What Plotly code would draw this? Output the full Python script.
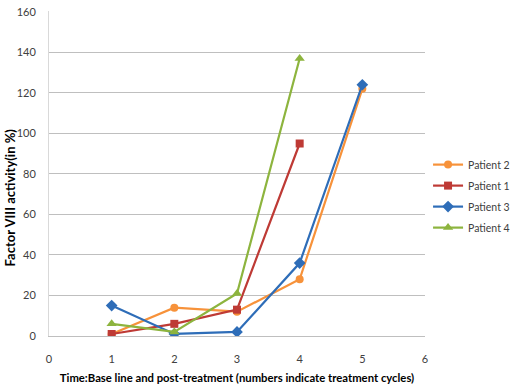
import plotly.graph_objects as go

cycles = [1, 2, 3, 4, 5]
patient2 = [1, 14, 12, 28, 122]
patient1 = [1, 6, 13, 95]
patient3 = [15, 1, 2, 36, 124]
patient4 = [6, 2, 21, 137]
y_ticks = [0, 20, 40, 60, 80, 100, 120, 140, 160]
x_ticks = [0, 1, 2, 3, 4, 5, 6]

series = [
    ("Patient 2", cycles[:len(patient2)], patient2, "#F7923A", "circle", 8),
    ("Patient 1", cycles[:len(patient1)], patient1, "#BE3A35", "square", 8),
    ("Patient 3", cycles[:len(patient3)], patient3, "#2E6DB8", "diamond", 9),
    ("Patient 4", cycles[:len(patient4)], patient4, "#8DB43E", "triangle-up", 9),
]

fig = go.Figure()
for name, xs, ys, color, sym, size in series:
    fig.add_trace(go.Scatter(
        x=xs, y=ys, name=name, mode="lines+markers", legendgroup=name,
        line=dict(color=color, width=2.2),
        marker=dict(symbol=sym, size=size, color=color),
    ))

font_family = "Lato, Liberation Sans, Arial, sans-serif"
fig.update_layout(
    width=520, height=387,
    margin=dict(l=49, r=91, t=5, b=50),
    paper_bgcolor="white", plot_bgcolor="white",
    font=dict(family=font_family, size=11, color="#404040"),
    showlegend=True,
    legend=dict(x=1.2395, y=0.572, xanchor="right", yanchor="top",
                font=dict(size=10.5, color="#404040"),
                bgcolor="rgba(0,0,0,0)", itemwidth=30,
                traceorder="grouped", tracegroupgap=2.0),
    xaxis=dict(range=[0, 6], tickmode="array", tickvals=x_ticks, showgrid=False,
               zeroline=False, showline=True, linecolor="#BFBFBF", linewidth=1,
               ticks="", tickfont=dict(size=11, color="#404040"),
               ticklabelstandoff=13,
               title=dict(text="<b>Time:Base line and post-treatment (numbers indicate treatment cycles)</b>",
                          font=dict(size=11.3, color="#000000"), standoff=9)),
    yaxis=dict(range=[0, 160.4], tickmode="array", tickvals=y_ticks, showgrid=True,
               gridcolor="#BFBFBF", gridwidth=1, zeroline=False, showline=True,
               linecolor="#D9D9D9", linewidth=1, ticks="",
               tickfont=dict(size=11, color="#404040"),
               ticklabelstandoff=10, ticklabeloverflow="allow"),
    annotations=[dict(
        text="<b>Factor VIII activity(in %)</b>", textangle=-90,
        xref="paper", yref="paper", x=-0.105, y=0.425,
        xanchor="center", yanchor="middle", showarrow=False,
        font=dict(size=13, color="#000000", family=font_family),
    )],
)

fig.write_html("out.html", config={"displayModeBar": False},
               post_script="document.body.style.margin='0';document.body.style.overflow='hidden';")
